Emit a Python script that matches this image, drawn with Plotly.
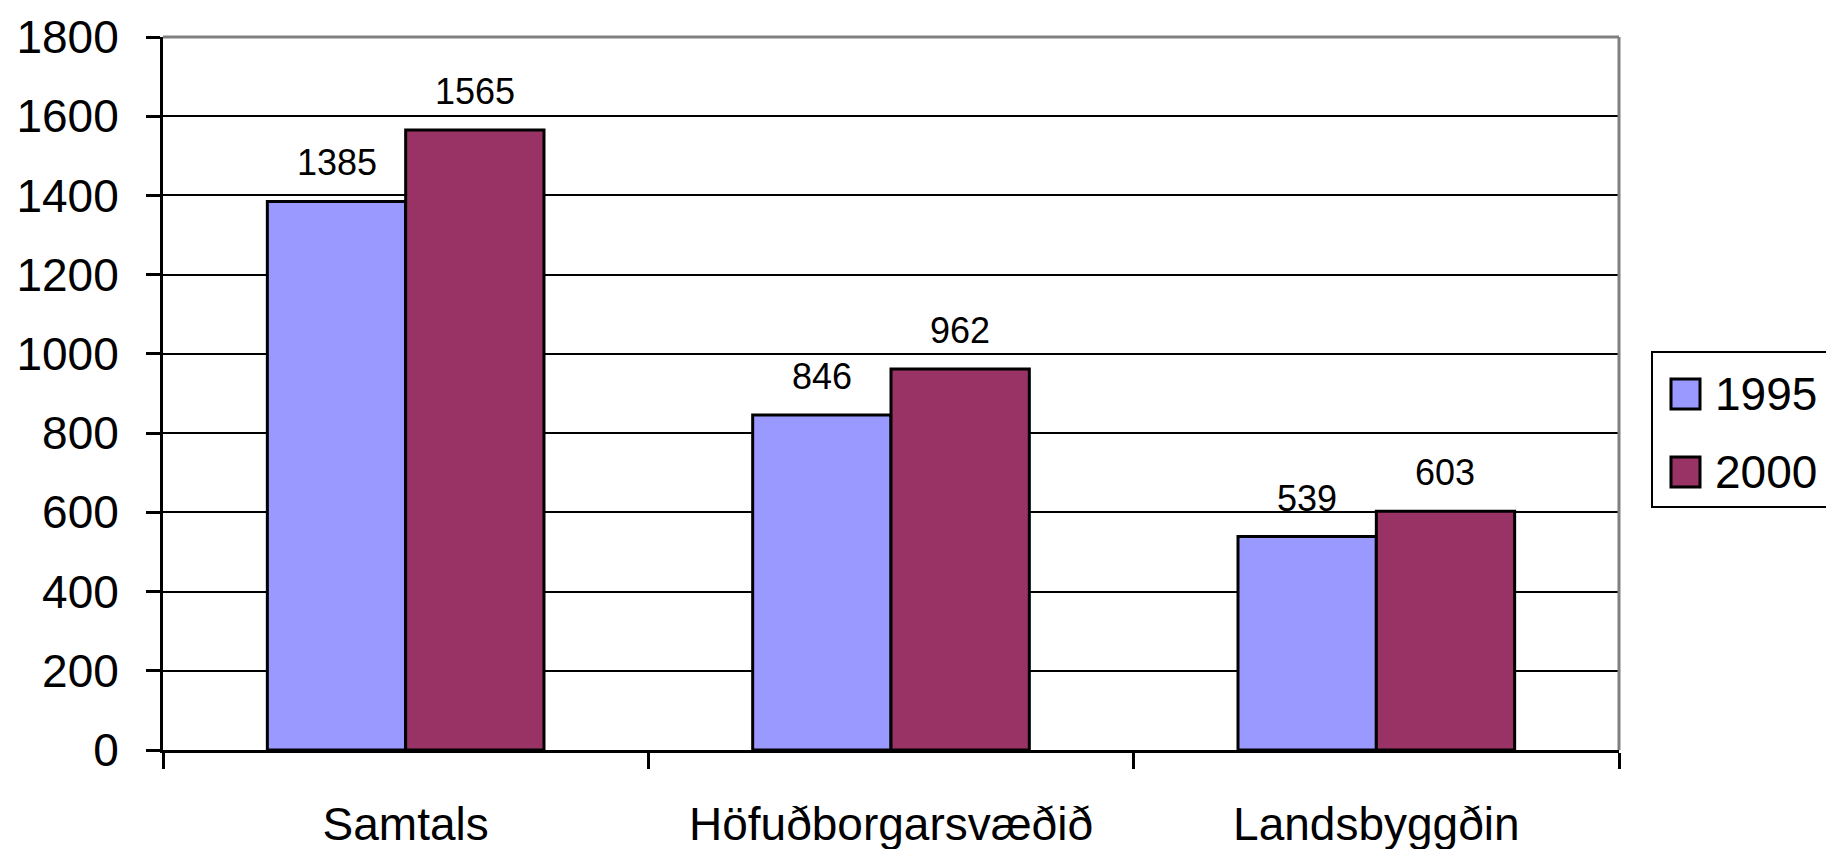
import plotly.graph_objects as go

categories = ["Samtals", "Höfuðborgarsvæðið", "Landsbyggðin"]
series_names = ["1995", "2000"]
values_1995 = [1385, 846, 539]
values_2000 = [1565, 962, 603]
colors = ["#9999FF", "#993366"]
y_ticks = list(range(0, 1801, 200))

# page body has an 8px margin; target positions are in page pixels
OFF = 8
W, H = 1834, 849
PL, PR, PT, PB = 163, 1619, 37, 750  # plot area in page pixels
L, T = PL - OFF, PT - OFF
R = W - (PR - OFF)
B = H - (PB - OFF)
PW, PH = PR - PL, PB - PT

def px_x(x):
    return (x - PL) / PW

def px_y(y):
    return (PB - y) / PH

FONT = "Liberation Sans, Arial, sans-serif"

fig = go.Figure()
series_values = [values_1995, values_2000]
for name, vals, col in zip(series_names, series_values, colors):
    fig.add_trace(go.Bar(
        x=categories, y=vals, name=name,
        marker=dict(color=col, line=dict(color="black", width=3)),
        showlegend=False,
    ))

# data labels
bar_px = PW / 3 * (1 - 0.43) / 2
for i, vals in enumerate(series_values):
    shift = (i - 0.5) * bar_px
    for c, v in zip(categories, vals):
        fig.add_annotation(x=c, y=v, text=str(v), showarrow=False,
                           xshift=shift, yshift=16, yanchor="bottom",
                           font=dict(family=FONT, size=36, color="black"))

# plot border (gray top and right)
fig.add_shape(type="line", xref="paper", yref="paper", x0=0, x1=1, y0=1, y1=1,
              line=dict(color="#808080", width=3), layer="above")
fig.add_shape(type="line", xref="paper", yref="paper", x0=1, x1=1, y0=0, y1=1,
              line=dict(color="#808080", width=3), layer="above")

# legend (manual, to match large swatches)
fig.add_shape(type="rect", xref="paper", yref="paper",
              x0=px_x(1652), x1=px_x(1860), y0=px_y(507), y1=px_y(352),
              line=dict(color="black", width=2), fillcolor="white")
legend_centers = [394, 472]
for name, col, cy in zip(series_names, colors, legend_centers):
    fig.add_shape(type="rect", xref="paper", yref="paper",
                  x0=px_x(1671), x1=px_x(1700), y0=px_y(cy + 15), y1=px_y(cy - 15),
                  line=dict(color="black", width=3), fillcolor=col)
    fig.add_annotation(xref="paper", yref="paper", x=px_x(1713), y=px_y(cy),
                       text=name, showarrow=False, xanchor="left", yanchor="middle",
                       font=dict(family=FONT, size=46, color="black"))

fig.update_layout(
    width=W, height=H,
    margin=dict(l=L, r=R, t=T, b=B, autoexpand=False),
    paper_bgcolor="white", plot_bgcolor="white",
    barmode="group", bargap=0.43, bargroupgap=0,
    font=dict(family=FONT, size=46, color="black"),
    showlegend=False,
    xaxis=dict(
        showline=True, linecolor="black", linewidth=3,
        ticks="outside", tickson="boundaries", ticklen=16, tickwidth=3, tickcolor="black",
        showgrid=False, ticklabelstandoff=32,
        tickfont=dict(family=FONT, size=46, color="black"),
    ),
    yaxis=dict(
        range=[0, 1800], tickvals=y_ticks,
        showline=True, linecolor="black", linewidth=3,
        ticks="outside", ticklen=14, tickwidth=3, tickcolor="black",
        showgrid=True, gridcolor="black", gridwidth=2,
        zeroline=False, ticklabelstandoff=18,
        tickfont=dict(family=FONT, size=46, color="black"),
    ),
)

fig.write_html("out.html")
